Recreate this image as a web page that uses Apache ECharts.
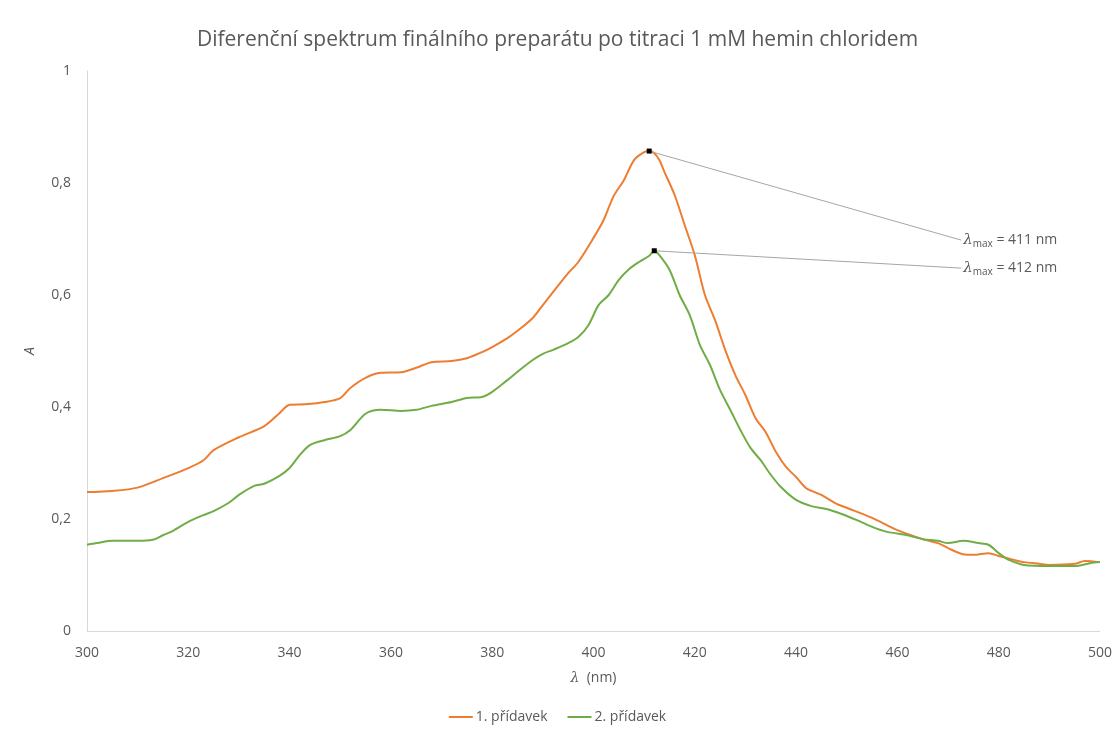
<!DOCTYPE html>
<html><head><meta charset="utf-8">
<script src="https://cdn.jsdelivr.net/npm/echarts@6/dist/echarts.min.js"></script>
<style>html,body{margin:0;padding:0;background:#fff}#c{width:1115px;height:729px}</style>
</head><body><div id="c"></div>
<script>
const wl1 = [300,305,310,315,320,323,325,330,335,338,340,343,347,350,352,355,358,362,365,368,372,375,378,380,383,385,388,390,392,395,397,400,402,404,406,408,410,411,412,413,414,416,418,420,422,424,426,428,430,432,434,436,438,440,442,445,448,450,455,460,465,468,470,473,475,478,480,483,485,488,490,495,497,500];
const abs1 = [0.248,0.250,0.256,0.273,0.291,0.305,0.323,0.346,0.366,0.389,0.404,0.405,0.409,0.416,0.434,0.452,0.461,0.462,0.470,0.480,0.482,0.487,0.498,0.507,0.523,0.536,0.559,0.582,0.605,0.639,0.659,0.702,0.734,0.777,0.805,0.841,0.855,0.857,0.853,0.841,0.820,0.779,0.725,0.671,0.600,0.555,0.502,0.457,0.421,0.380,0.355,0.320,0.293,0.275,0.255,0.243,0.227,0.220,0.202,0.180,0.164,0.157,0.148,0.137,0.136,0.139,0.134,0.127,0.123,0.120,0.118,0.120,0.125,0.123];
const wl2 = [300,302,305,310,313,315,317,320,323,325,328,330,333,335,338,340,342,344,347,350,352,355,358,362,365,368,372,375,378,380,383,385,388,390,392,395,397,399,401,403,405,407,409,411,412,413,415,417,419,421,423,425,427,429,431,433,435,437,440,443,446,449,452,455,458,462,465,468,470,473,476,478,480,482,485,490,495,498,500];
const abs2 = [0.154,0.157,0.161,0.161,0.163,0.171,0.179,0.195,0.207,0.214,0.229,0.243,0.259,0.263,0.277,0.291,0.314,0.332,0.341,0.348,0.359,0.388,0.395,0.393,0.395,0.402,0.409,0.416,0.418,0.427,0.448,0.463,0.484,0.495,0.502,0.514,0.525,0.546,0.582,0.600,0.627,0.646,0.659,0.670,0.679,0.671,0.645,0.600,0.564,0.511,0.475,0.430,0.395,0.359,0.327,0.305,0.279,0.257,0.234,0.223,0.218,0.209,0.198,0.186,0.177,0.171,0.164,0.161,0.157,0.161,0.157,0.154,0.139,0.127,0.118,0.116,0.116,0.121,0.123];
const seriesNames = ['1. přídavek','2. přídavek'];
const peaks = [[411,0.857],[412,0.679]];
const peakLabels = ['411 nm','412 nm'];
const labelAnchors = [[472.6,0.698],[472.6,0.648]];
const titleText = 'Diferenční spektrum finálního preparátu po titraci 1 mM hemin chloridem';

const font = 'Open Sans';
const txt = '#595959';
function mkSeries(i, wl, ab, color){
  return {
    name: seriesNames[i], type:'line', data: wl.map((w,k)=>[w,ab[k]]),
    showSymbol:false, smooth:0.3, lineStyle:{width:2, color}, itemStyle:{color},
    markLine:{silent:true, symbol:'none', animation:false, label:{show:false},
      lineStyle:{color:'#A6A6A6', width:1, type:'solid'},
      data:[[{coord:peaks[i]},{coord:labelAnchors[i]}]]},
    markPoint:{silent:true, animation:false, data:[
      {coord:peaks[i], symbol:'rect', symbolSize:5, itemStyle:{color:'#000'}, label:{show:false}},
      {coord:labelAnchors[i], symbol:'rect', symbolSize:0.1,
        label:{show:true, position:'right', distance:2,
          formatter:'{l|λ}{s|max}{n| = '+peakLabels[i]+'}',
          rich:{l:{fontFamily:'DejaVu Serif', fontStyle:'italic', fontSize:15, color:txt},
                s:{fontFamily:font, fontSize:10, color:txt, verticalAlign:'bottom', padding:[8,0,0,0]},
                n:{fontFamily:font, fontSize:14, color:txt}}}}
    ]}
  };
}
const chart = echarts.init(document.getElementById('c'));
chart.setOption({
  animation:false,
  backgroundColor:'#fff',
  title:{text:titleText, left:'center', top:25, textStyle:{fontFamily:font, fontSize:21, fontWeight:'normal', color:txt}},
  grid:{left:87, right:14, top:71, bottom:98},
  legend:{bottom:0, itemWidth:24, itemHeight:2, itemGap:20, icon:'rect',
    textStyle:{fontFamily:font, fontSize:14, color:txt, padding:[0,0,0,-2]}, data:seriesNames},
  xAxis:{type:'value', min:300, max:500, interval:20,
    name:'{i|λ}  (nm)', nameLocation:'middle', nameGap:40,
    nameTextStyle:{fontFamily:font, fontSize:14, color:txt, rich:{i:{fontFamily:'DejaVu Serif', fontStyle:'italic', fontSize:14, color:txt}}},
    axisLine:{lineStyle:{color:'#D9D9D9', width:1}}, axisTick:{show:false},
    axisLabel:{fontFamily:font, fontSize:14, color:txt, margin:15}, splitLine:{show:false}},
  yAxis:{type:'value', min:0, max:1, interval:0.2,
    name:'A', nameLocation:'middle', nameGap:50,
    nameTextStyle:{fontFamily:font, fontSize:14, fontStyle:'italic', color:txt},
    axisLine:{show:true, lineStyle:{color:'#D9D9D9', width:1}}, axisTick:{show:false},
    axisLabel:{fontFamily:font, fontSize:14, color:txt, margin:16, formatter:v=>String(Math.round(v*10)/10).replace('.',',')},
    splitLine:{show:false}},
  series:[mkSeries(0, wl1, abs1, '#ED7D31'), mkSeries(1, wl2, abs2, '#70AD47')]
});
</script></body></html>
